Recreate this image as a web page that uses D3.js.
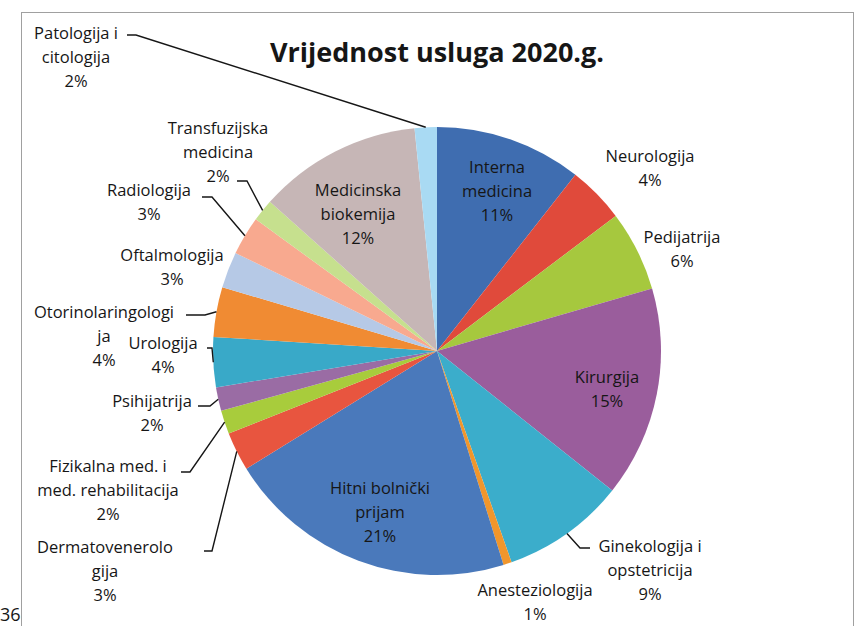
<!DOCTYPE html>
<html lang="hr">
<head>
<meta charset="utf-8">
<title>Vrijednost usluga 2020.g.</title>
<script src="https://d3js.org/d3.v7.min.js"></script>
<style>
  body { margin: 0; background: #fff; }
  text { font-family: "Open Sans", "Liberation Sans", sans-serif; fill: #161616; }
</style>
</head>
<body>
<script>
var title = "Vrijednost usluga 2020.g.";

var categories = [
  "Interna\nmedicina", "Neurologija", "Pedijatrija", "Kirurgija",
  "Ginekologija i\nopstetricija", "Anesteziologija", "Hitni bolnički\nprijam",
  "Dermatovenerolo\ngija", "Fizikalna med. i\nmed. rehabilitacija", "Psihijatrija",
  "Urologija", "Otorinolaringologi\nja", "Oftalmologija", "Radiologija",
  "Transfuzijska\nmedicina", "Medicinska\nbiokemija", "Patologija i\ncitologija"
];

// share of total value (%)
var values = [10.6, 4.1, 5.8, 15.2, 8.9, 0.6, 21.0, 2.8, 1.7, 1.7, 3.6, 3.6, 2.6, 2.8, 1.6, 11.8, 1.6];

var colors = [
  "#3f6db0", "#e04a3b", "#a6c83e", "#9a5d9c", "#3badcb", "#f0962c", "#4a79bb",
  "#e8553f", "#a8cc3c", "#9a6ca4", "#39a9c8", "#f08b33", "#b6c9e6", "#f8a98f",
  "#c6e08e", "#c6b6b6", "#a9daf3"
];

var width = 857, height = 626;
var cx = 437, cy = 351, radius = 224;
var lineH = 24;

// label placement: first line baseline; leader = [stubStartX, stubY, elbowX]
var labelPos = [
  {x: 497, y: 173},
  {x: 650, y: 162},
  {x: 682, y: 243},
  {x: 607, y: 383},
  {x: 650, y: 552, leader: [590, 548, 580]},
  {x: 535, y: 596},
  {x: 380, y: 494},
  {x: 105, y: 553, leader: [204, 551, 212]},
  {x: 108, y: 472, leader: [181, 472, 190]},
  {x: 152, y: 407, leader: [198, 406, 210]},
  {x: 163, y: 349, leader: [207, 348, 212]},
  {x: 104, y: 318, leader: [186, 315, 205]},
  {x: 172, y: 261},
  {x: 149, y: 196, leader: [202, 197, 212]},
  {x: 218, y: 134, leader: [237, 181, 247]},
  {x: 358, y: 196},
  {x: 76, y: 39, leader: [127, 35, 136]}
];

var svg = d3.select("body").append("svg")
    .attr("width", width)
    .attr("height", height);

svg.append("rect")
    .attr("x", 21.5).attr("y", 12.5)
    .attr("width", 832).attr("height", 640)
    .attr("fill", "none")
    .attr("stroke", "#a0a0a0");

svg.append("text")
    .attr("x", 0).attr("y", 621)
    .style("font-size", "18px")
    .text("36");

svg.append("text")
    .attr("x", cx).attr("y", 62)
    .attr("text-anchor", "middle")
    .style("font-size", "27px")
    .style("font-weight", "bold")
    .text(title);

var total = d3.sum(values);
var data = categories.map(function(c, i) { return {name: c, value: values[i], i: i}; });

var pie = d3.pie().sort(null).value(function(d) { return d.value; });
var arcs = pie(data);
var arc = d3.arc().innerRadius(0).outerRadius(radius);

var g = svg.append("g").attr("transform", "translate(" + cx + "," + cy + ")");

g.selectAll("path")
  .data(arcs)
  .enter().append("path")
    .attr("d", arc)
    .attr("fill", function(d) { return colors[d.data.i]; });

function edgePoint(d) {
  var a = (d.startAngle + d.endAngle) / 2;
  return [cx + radius * Math.sin(a), cy - radius * Math.cos(a)];
}

svg.selectAll("path.leader")
  .data(arcs.filter(function(d) { return labelPos[d.data.i].leader; }))
  .enter().append("path")
    .attr("class", "leader")
    .attr("fill", "none")
    .attr("stroke", "#161616")
    .attr("stroke-width", 1.4)
    .attr("d", function(d) {
      var l = labelPos[d.data.i].leader, p = edgePoint(d);
      return d3.line()([[l[0], l[1]], [l[2], l[1]], p]);
    });

var labels = svg.selectAll("text.lbl")
  .data(arcs)
  .enter().append("text")
    .attr("class", "lbl")
    .attr("text-anchor", "middle")
    .style("font-size", "16.5px");

labels.each(function(d) {
  var p = labelPos[d.data.i];
  var lines = d.data.name.split("\n");
  lines.push(Math.round(d.data.value / total * 100) + "%");
  d3.select(this).selectAll("tspan")
    .data(lines)
    .enter().append("tspan")
      .attr("x", p.x)
      .attr("y", function(t, k) { return p.y + k * lineH; })
      .text(function(t) { return t; });
});
</script>
</body>
</html>
